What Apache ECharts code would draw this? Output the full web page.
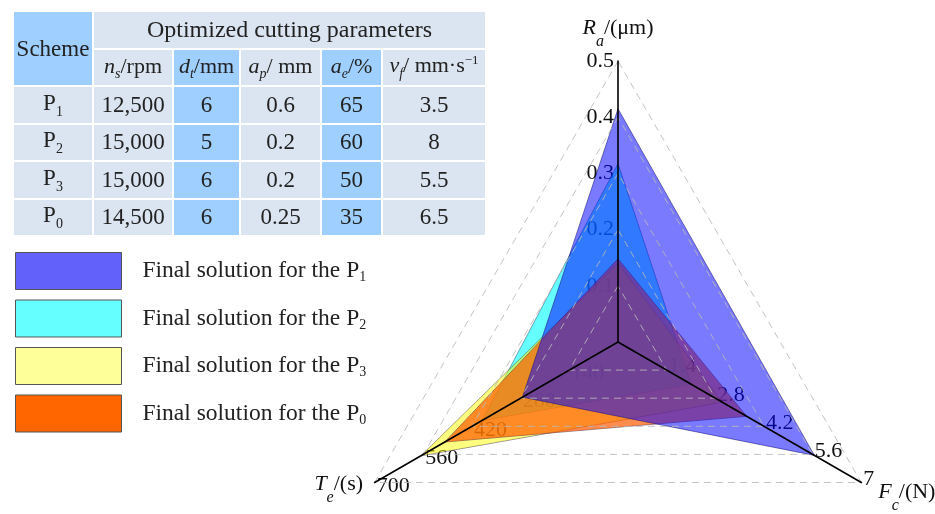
<!DOCTYPE html>
<html><head><meta charset="utf-8">
<script src="https://cdn.jsdelivr.net/npm/echarts@6.0.0/dist/echarts.min.js"></script>
<style>
html,body{margin:0;padding:0;background:#fff;width:935px;height:514px;overflow:hidden;}
#chart{position:absolute;left:0;top:0;width:935px;height:514px;}
#tbl{position:absolute;left:12px;top:10px;border-collapse:collapse;font-family:'Liberation Serif',serif;font-size:23px;color:#222;table-layout:fixed;}
#tbl td{height:35.5px;padding:0;text-align:center;border:2px solid #fff;white-space:nowrap;overflow:visible;}
#tbl td.l{background:#dbe5f1;}
#tbl td.b{background:#9fcfff;}
#tbl sub{font-size:14px;}
#tbl sup{font-size:13px;}
</style></head>
<body>
<div id="chart"></div>
<table id="tbl"></table>
<script>
// ---- data ----
const indicatorNames = ['Ra', 'Te', 'Fc'];
const indicatorMax = [0.5, 700, 7];
const seriesNames = ['P1', 'P2', 'P3', 'P0'];
const P1 = [0.415, 275, 5.65];
const P2 = [0.317, 391, 2.1];
const P3 = [0.14, 567, 3.0];
const P0 = [0.148, 498, 3.7];
const fillColors = ['rgba(0,0,255,0.52)', 'rgba(0,255,255,0.6)', 'rgba(255,255,0,0.5)', 'rgba(255,90,0,0.7)'];
const legendColors = ['#6262fa', '#66ffff', '#ffff99', '#ff6600'];
// table
const tableHeads = ['<i>n</i><sub><i>s</i></sub>/rpm', '<i>d</i><sub><i>t</i></sub>/mm', '<i>a</i><sub><i>p</i></sub>/ mm', '<i>a</i><sub><i>e</i></sub>/%', '<i>v</i><sub><i>f</i></sub>/ mm·s<sup>−1</sup>'];
const tableSchemes = ['P<sub>1</sub>', 'P<sub>2</sub>', 'P<sub>3</sub>', 'P<sub>0</sub>'];
const tableNs = ['12,500', '15,000', '15,000', '14,500'];
const tableDt = ['6', '5', '6', '6'];
const tableAp = ['0.6', '0.2', '0.2', '0.25'];
const tableAe = ['65', '60', '50', '35'];
const tableVf = ['3.5', '8', '5.5', '6.5'];

// ---- table ----
const colW = [80, 80, 67, 81, 61, 104];
const colCls = ['l', 'l', 'b', 'l', 'b', 'l'];
let html = '<colgroup>' + colW.map(w => '<col style="width:' + w + 'px">').join('') + '</colgroup>';
html += '<tr><td rowspan="2" class="b">Scheme</td><td colspan="5" class="l" style="font-size:24px">Optimized cutting parameters</td></tr>';
html += '<tr>' + tableHeads.map((h, i) => '<td class="' + colCls[i + 1] + '" style="font-size:22px">' + h + '</td>').join('') + '</tr>';
for (let r = 0; r < 4; r++) {
  const cells = [tableSchemes[r], tableNs[r], tableDt[r], tableAp[r], tableAe[r], tableVf[r]];
  html += '<tr>' + cells.map((c, i) => '<td class="' + colCls[i] + '">' + c + '</td>').join('') + '</tr>';
}
document.getElementById('tbl').innerHTML = html;

// ---- chart ----
const chart = echarts.init(document.getElementById('chart'));
const seriesData = [P1, P2, P3, P0];
const nameFmt = {
  Ra: '{i|R}{s|a}{n|/(μm)}',
  Te: '{i|T}{s|e}{m|/(s)}',
  Fc: '{i|F}{s|c}{n|/(N)}'
};
const drawOrder = [1, 2, 3, 0]; // P2, P3, P0, P1 (bottom -> top)
const series = drawOrder.map(idx => ({
  type: 'radar',
  radarIndex: 0,
  name: seriesNames[idx],
  symbol: 'none',
  silent: true,
  z: 2,
  data: [{ value: seriesData[idx], name: seriesNames[idx] }],
  lineStyle: { width: 1, color: 'rgba(40,30,70,0.55)' },
  itemStyle: { color: legendColors[idx] },
  areaStyle: { color: fillColors[idx], opacity: 1 }
}));
const indicators = indicatorNames.map((n, i) => ({ name: n, min: 0, max: indicatorMax[i] }));
const common = { center: [618, 342], radius: 281, startAngle: 90, splitNumber: 5, shape: 'polygon', indicator: indicators };
chart.setOption({
  animation: false,
  legend: {
    orient: 'vertical', left: 10, top: 247,
    itemWidth: 106, itemHeight: 37, itemGap: 9.5,
    icon: 'rect',
    selectedMode: false,
    data: seriesNames.map((n, i) => ({ name: n, itemStyle: { color: legendColors[i], borderColor: '#555', borderWidth: 1 } })),
    formatter: n => '{t|Final solution for the P}{s|' + n.slice(1) + '}',
    textStyle: {
      color: '#222',
      rich: {
        t: { fontFamily: 'Liberation Serif', fontSize: 23.5, color: '#222', padding: [0, 0, 0, 16] },
        s: { fontFamily: 'Liberation Serif', fontSize: 14, color: '#222', padding: [13, 0, 0, 0] }
      }
    }
  },
  radar: [
    Object.assign({}, common, {
      z: 0,
      nameGap: 3,
      axisName: {
        formatter: n => nameFmt[n],
        color: '#111',
        rich: {
          i: { fontFamily: 'Liberation Serif', fontStyle: 'italic', fontSize: 22, color: '#111' },
          s: { fontFamily: 'Liberation Serif', fontStyle: 'italic', fontSize: 16, color: '#111', padding: [28, 0, 0, 0] },
          n: { fontFamily: 'Liberation Serif', fontSize: 22, color: '#111' },
          m: { fontFamily: 'Liberation Serif', fontSize: 22, color: '#111', padding: [0, 9, 0, 0] }
        }
      },
      axisLine: { show: false },
      axisTick: { show: false },
      splitLine: { show: false },
      splitArea: { show: false },
      axisLabel: {
        show: true, showMinLabel: false, margin: 4,
        fontFamily: 'Liberation Serif', fontSize: 22, color: '#111',
        formatter: v => String(+(+v).toFixed(2))
      }
    }),
    Object.assign({}, common, {
      z: 10,
      axisName: { show: false },
      axisLine: { lineStyle: { color: '#000', width: 1.6 } },
      axisTick: { show: false },
      splitLine: { lineStyle: { color: 'rgba(185,185,185,0.85)', width: 1, type: [7, 5] } },
      splitArea: { show: false },
      axisLabel: { show: false }
    })
  ],
  series: series
});
</script>
</body></html>
